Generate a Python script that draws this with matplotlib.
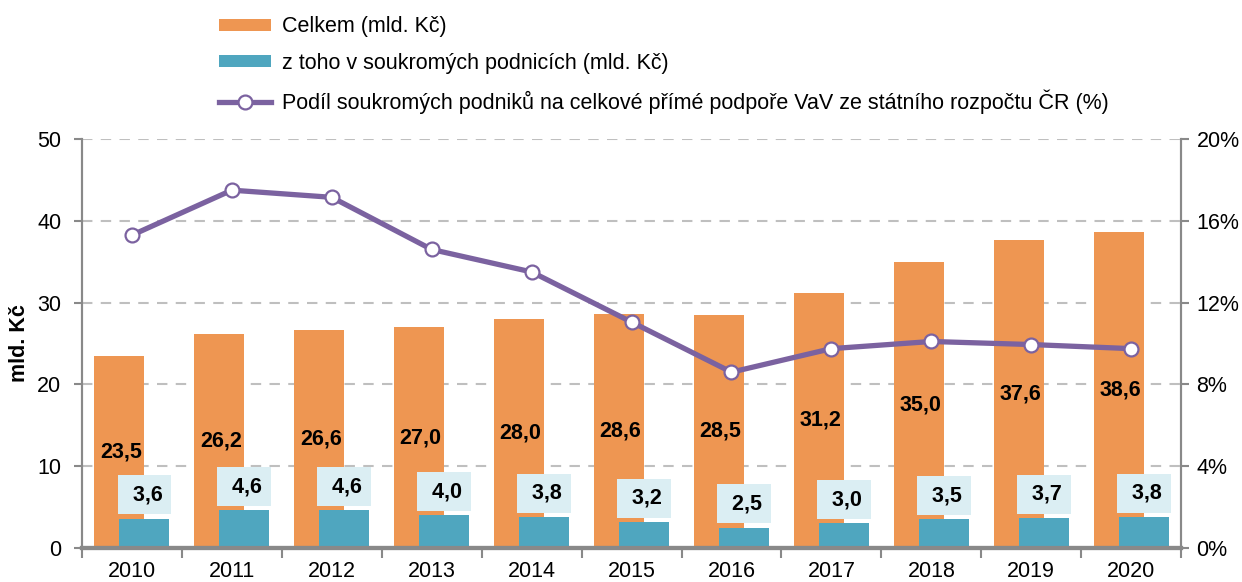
import matplotlib.pyplot as plt
import numpy as np
from matplotlib.ticker import FuncFormatter, FixedLocator

plt.rcParams['font.family'] = ['Liberation Sans', 'DejaVu Sans']

# data
years = ['2010', '2011', '2012', '2013', '2014', '2015', '2016', '2017', '2018', '2019', '2020']
celkem = [23.5, 26.2, 26.6, 27.0, 28.0, 28.6, 28.5, 31.2, 35.0, 37.6, 38.6]
podniky = [3.6, 4.6, 4.6, 4.0, 3.8, 3.2, 2.5, 3.0, 3.5, 3.7, 3.8]
podil = [15.3, 17.5, 17.15, 14.6, 13.5, 11.05, 8.6, 9.75, 10.1, 9.95, 9.75]

c_orange = '#EE9652'
c_teal = '#4FA6BF'
c_purple = '#7B62A0'
c_box = '#DBEEF3'
c_axis = '#898989'

fig = plt.figure(figsize=(12.42, 5.82), dpi=100)
ax = fig.add_axes([0.066, 0.0584, 0.885, 0.7027])
ax2 = ax.twinx()

x = np.arange(len(years))
w = 0.5
b1 = ax.bar(x - 0.125, celkem, w, color=c_orange, zorder=2, label='Celkem (mld. Kč)')
b2 = ax.bar(x + 0.125, podniky, w, color=c_teal, zorder=3, label='z toho v soukromých podnicích (mld. Kč)')

for i in range(len(years)):
    ax.text(x[i] - 0.11, celkem[i] / 2, f'{celkem[i]:.1f}'.replace('.', ','), ha='center', va='center',
            fontsize=15.5, fontweight='bold', zorder=5)
    ax.annotate(' ' + f'{podniky[i]:.1f}'.replace('.', ','), (x[i] + 0.125, podniky[i]),
                xytext=(0, 17), textcoords='offset points', ha='center', va='center',
                fontsize=15.5, fontweight='bold', zorder=6,
                bbox=dict(boxstyle='square,pad=0.42', fc=c_box, ec='none'))

ln, = ax2.plot(x, podil, color=c_purple, lw=3.8, marker='o', ms=10, mfc='white', mec=c_purple, mew=1.6,
               zorder=4, label='Podíl soukromých podniků na celkové přímé podpoře VaV ze státního rozpočtu ČR (%)')

ax.set_xlim(-0.5, len(years) - 0.5)
ax.set_ylim(0, 50)
ax.set_yticks([0, 10, 20, 30, 40, 50])
ax2.set_ylim(0, 20)
ax2.set_yticks([0, 4, 8, 12, 16, 20])
ax2.yaxis.set_major_formatter(FuncFormatter(lambda v, p: f'{v:.0f}%'))

ax.grid(axis='y', color='#BFBFBF', ls=(0, (5, 4)), lw=1.5, zorder=0)
ax.set_axisbelow(True)
ax2.set_zorder(ax.get_zorder() + 1)
ax2.patch.set_visible(False)

# x ticks on boundaries, labels at centers
ax.xaxis.set_major_locator(FixedLocator(np.arange(-0.5, len(years), 1.0)))
ax.set_xticklabels([])
ax.set_xticks(x, years, minor=True)
ax.tick_params(axis='x', which='major', length=7, width=1.5, color=c_axis)
ax.tick_params(axis='x', which='minor', length=0, pad=9, labelsize=15.5)
ax.tick_params(axis='y', length=6, width=1.5, color=c_axis, labelsize=15.5, pad=9)
ax2.tick_params(axis='y', length=6, width=1.5, color=c_axis, labelsize=15.5, pad=5)

for a in (ax, ax2):
    a.spines['top'].set_visible(False)
    a.spines['left'].set_color(c_axis)
    a.spines['right'].set_color(c_axis)
    a.spines['bottom'].set_color(c_axis)
    a.spines['left'].set_linewidth(1.5)
    a.spines['right'].set_linewidth(1.5)
    a.spines['bottom'].set_linewidth(3)

ax.set_ylabel('mld. Kč', fontsize=15.5, fontweight='bold')
ax.yaxis.set_label_coords(-0.047, 0.5)

fig.legend(handles=[b1, b2, ln], loc='upper left', bbox_to_anchor=(0.161, 1.005), frameon=False,
           fontsize=15.5, handlelength=2.4, handleheight=0.5, handletextpad=0.5, labelspacing=0.72)

plt.savefig('out.png', dpi=100)
